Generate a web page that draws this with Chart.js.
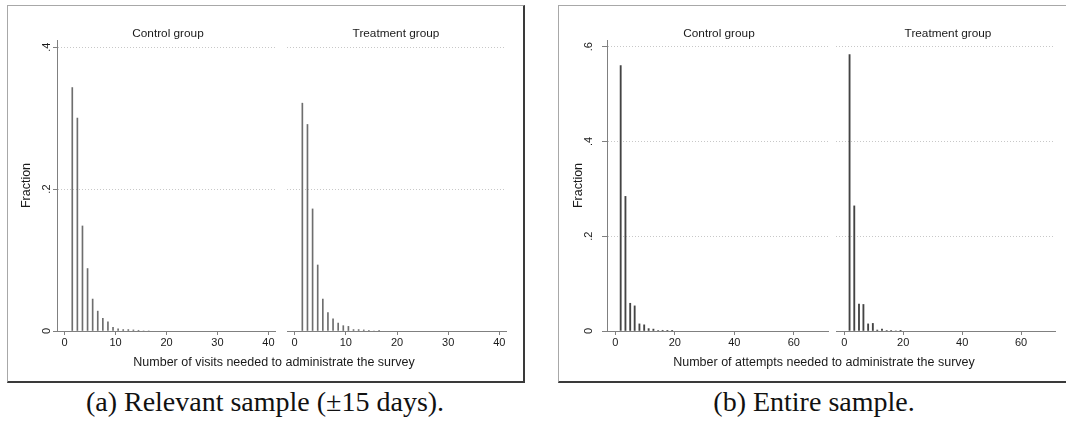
<!DOCTYPE html>
<html>
<head>
<meta charset="utf-8">
<script src="https://cdn.jsdelivr.net/npm/chart.js@4.4.1/dist/chart.umd.min.js"></script>
<style>
  body { margin: 0; background: #fff; width: 1066px; height: 422px; overflow: hidden; position: relative;
         font-family: 'Liberation Sans', Arial, sans-serif; color: #1a1a1a; }
  .frame { position: absolute; box-sizing: border-box; border-left: 1px solid #a8a8a8; border-top: 1px solid #a8a8a8;
           border-right: 2px solid #3a3a3a; border-bottom: 2px solid #3a3a3a; }
  canvas { position: absolute; }
  .lbl { position: absolute; width: 400px; text-align: center; white-space: nowrap; }
  .sub-title { font-size: 11.8px; line-height: 14px; }
  .x-title { font-size: 12.5px; line-height: 14px; }
  .caption { font-family: 'Liberation Serif', 'DejaVu Serif', serif; font-size: 28px; line-height: 32px; color: #111; }
</style>
</head>
<body>
<div class="frame" style="left:7px; top:5px; width:518px; height:378px;"></div>
<div class="frame" style="left:558px; top:5px; width:520px; height:378px;"></div>

<canvas id="ctrlVisits" width="269" height="336" style="left:10px; top:20px;"></canvas>
<canvas id="treatVisits" width="227" height="336" style="left:283px; top:20px;"></canvas>
<canvas id="ctrlAttempts" width="272" height="336" style="left:560px; top:20px;"></canvas>
<canvas id="treatAttempts" width="227" height="336" style="left:832px; top:20px;"></canvas>

<div class="lbl sub-title" style="left:-32px; top:26px;">Control group</div>
<div class="lbl sub-title" style="left:196px; top:26px;">Treatment group</div>
<div class="lbl sub-title" style="left:519px; top:26px;">Control group</div>
<div class="lbl sub-title" style="left:748px; top:26px;">Treatment group</div>

<div class="lbl x-title" style="left:74px; top:355px;">Number of visits needed to administrate the survey</div>
<div class="lbl x-title" style="left:624px; top:355px;">Number of attempts needed to administrate the survey</div>

<div class="lbl caption" style="left:65px; top:386px;">(a) Relevant sample (±15 days).</div>
<div class="lbl caption" style="left:614px; top:386px;">(b) Entire sample.</div>

<script>
// histogram bins (bar centres) and fractions
const visitBins = [1.5, 2.5, 3.5, 4.5, 5.5, 6.5, 7.5, 8.5, 9.5, 10.5, 11.5, 12.5, 13.5, 14.5, 15.5, 16.5];
const controlVisits = [0.343, 0.300, 0.148, 0.088, 0.045, 0.028, 0.018, 0.013, 0.005, 0.003, 0.002, 0.002, 0.0015, 0.001, 0, 0];
const treatmentVisits = [0.321, 0.291, 0.172, 0.093, 0.045, 0.026, 0.017, 0.011, 0.0075, 0.0065, 0.002, 0.002, 0.0015, 0.001, 0, 0.0005];

const attemptBins = [1.8, 3.4, 5.0, 6.5, 8.1, 9.7, 11.2, 12.8, 14.4, 15.9, 17.5, 19.1];
const controlAttempts = [0.560, 0.284, 0.0585, 0.053, 0.015, 0.013, 0.005, 0.004, 0.001, 0.0015, 0.0005, 0.0005];
const treatmentAttempts = [0.583, 0.264, 0.057, 0.056, 0.015, 0.016, 0.002, 0.004, 0.001, 0.001, 0, 0.0005];

const visitTicks = [0, 10, 20, 30, 40];
const attemptTicks = [0, 20, 40, 60];
const visitFractionTicks = [0, 0.2, 0.4];
const visitFractionLabels = ['0', '.2', '.4'];
const attemptFractionTicks = [0, 0.2, 0.4, 0.6];
const attemptFractionLabels = ['0', '.2', '.4', '.6'];

const AXIS_GREY = '#808080';
const TEXT = '#1a1a1a';
Chart.defaults.font.family = "'Liberation Sans', Arial, sans-serif";

function makeHistogram(canvasId, o) {
    const points = o.bins.map((b, i) => ({ x: b, y: o.values[i] }));
    return new Chart(document.getElementById(canvasId), {
        type: 'bar',
        data: { datasets: [{ data: points, backgroundColor: o.barColor, borderWidth: 0, barThickness: o.barWidth }] },
        options: {
            responsive: false,
            animation: false,
            layout: { padding: { top: 20, right: 4, left: o.showY ? 0 : 4, bottom: 0 } },
            plugins: { legend: { display: false }, tooltip: { enabled: false }, title: { display: false } },
            scales: {
                x: {
                    type: 'linear', min: o.xMin, max: o.xMax, offset: false,
                    afterBuildTicks: axis => { axis.ticks = o.xTicks.map(v => ({ value: v })); },
                    afterFit: axis => { axis.height = 25; },
                    ticks: { autoSkip: false, maxRotation: 0, padding: 1, color: TEXT, font: { size: 11 } },
                    grid: { offset: false, drawOnChartArea: false, tickLength: 4, tickColor: AXIS_GREY, tickBorderDash: [] },
                    border: { color: AXIS_GREY, width: 1 }
                },
                y: {
                    min: 0, max: o.yMax,
                    afterBuildTicks: axis => { axis.ticks = o.yTicks.map(v => ({ value: v })); },
                    afterFit: axis => { axis.width = o.showY ? 47 : 0; },
                    ticks: {
                        display: o.showY, autoSkip: false, minRotation: 90, maxRotation: 90, crossAlign: 'center',
                        padding: o.yTickPad, color: TEXT, font: { size: 11 },
                        callback: (v, i) => o.yLabels[i]
                    },
                    grid: {
                        drawTicks: o.showY, tickLength: o.yTickLen, tickColor: AXIS_GREY, tickBorderDash: [],
                        color: c => (c.tick && c.tick.value === 0) ? 'rgba(0,0,0,0)' : '#c8c8c8',
                        lineWidth: 1
                    },
                    border: { display: o.showY, color: AXIS_GREY, width: 1, dash: [1, 2] },
                    title: {
                        display: o.showY, text: 'Fraction', color: TEXT, font: { size: 12.5 },
                        padding: { top: o.yTitlePad, bottom: 0 }
                    }
                }
            }
        }
    });
}

makeHistogram('ctrlVisits', {
    bins: visitBins, values: controlVisits, barColor: '#6e6e6e', barWidth: 1,
    xMin: -1.5, xMax: 41.3, xTicks: visitTicks,
    yMax: 0.41, yTicks: visitFractionTicks, yLabels: visitFractionLabels,
    showY: true, yTickLen: 4, yTickPad: 1.7, yTitlePad: 9.2
});
makeHistogram('treatVisits', {
    bins: visitBins, values: treatmentVisits, barColor: '#6e6e6e', barWidth: 1,
    xMin: -1.5, xMax: 41.3, xTicks: visitTicks,
    yMax: 0.41, yTicks: visitFractionTicks, yLabels: visitFractionLabels,
    showY: false, yTickLen: 0, yTickPad: 0, yTitlePad: 0
});
makeHistogram('ctrlAttempts', {
    bins: attemptBins, values: controlAttempts, barColor: '#444444', barWidth: 1.2,
    xMin: -2.8, xMax: 71.5, xTicks: attemptTicks,
    yMax: 0.614, yTicks: attemptFractionTicks, yLabels: attemptFractionLabels,
    showY: true, yTickLen: 5, yTickPad: 8, yTitlePad: 10.8
});
makeHistogram('treatAttempts', {
    bins: attemptBins, values: treatmentAttempts, barColor: '#444444', barWidth: 1.2,
    xMin: -2.8, xMax: 71.5, xTicks: attemptTicks,
    yMax: 0.614, yTicks: attemptFractionTicks, yLabels: attemptFractionLabels,
    showY: false, yTickLen: 0, yTickPad: 0, yTitlePad: 0
});
</script>
</body>
</html>
